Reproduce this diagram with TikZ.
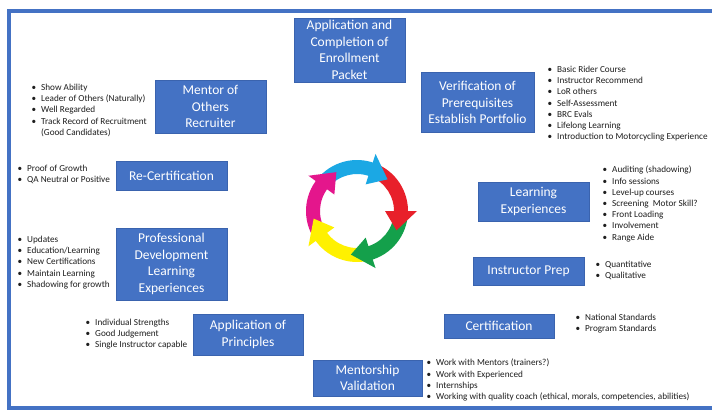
\documentclass[tikz,border=0pt]{standalone}
\usepackage{fontspec}
\setmainfont{Carlito}
\definecolor{boxblue}{HTML}{4472C4}
\definecolor{boxedge}{HTML}{3A63AE}
\definecolor{listtext}{HTML}{1E1E1E}
\definecolor{cmag}{HTML}{E4168C}
\definecolor{cblue}{HTML}{1BA8E4}
\definecolor{cred}{HTML}{E8202A}
\definecolor{cgreen}{HTML}{14A04B}
\definecolor{cyellow}{HTML}{FFF100}
% bullet item and continuation line of a list
\newcommand{\itm}[1]{\makebox[9.5pt][l]{\textbullet}#1}
\newcommand{\cont}[1]{\hspace*{9.5pt}#1}
\begin{document}
\begin{tikzpicture}[x=1pt,y=-1pt,
  box/.style={fill=boxblue, draw=boxedge, line width=0.6pt, text=white,
    align=center, inner sep=0pt, font=\fontsize{13.5}{16.5}\selectfont},
  list/.style={anchor=north west, align=left, inner sep=0pt, text=listtext,
    font=\fontsize{9.2}{11.2}\selectfont,
    execute at begin node={\rule{0pt}{7.5pt}}}]
\useasboundingbox (0,0) rectangle (712,410);
\fill[white] (0,0) rectangle (712,410);
\begin{scope}
\clip (0,0) rectangle (712,410);
\draw[boxblue, line width=3.5pt] (9,11) rectangle (740,408);
\end{scope}

% process steps
\node[box, minimum width=111pt, minimum height=64pt] (app) at (349.5,50) {Application and\\Completion of\\Enrollment\\Packet};
\node[box, minimum width=113pt, minimum height=60pt] (verif) at (477.5,102.5) {Verification of\\Prerequisites\\Establish Portfolio};
\node[box, minimum width=111pt, minimum height=39pt] (learn) at (533.5,201.5) {Learning\\Experiences};
\node[box, minimum width=111pt, minimum height=28pt] (prep) at (528.5,271) {Instructor Prep};
\node[box, minimum width=110pt, minimum height=24pt] (cert) at (499,326) {Certification};
\node[box, minimum width=109pt, minimum height=36pt] (mval) at (367.5,378) {Mentorship\\Validation};
\node[box, minimum width=110pt, minimum height=41pt] (aprin) at (248,334.5) {Application of\\Principles};
\node[box, minimum width=111pt, minimum height=72pt] (pdev) at (171.5,264) {Professional\\Development\\Learning\\Experiences};
\node[box, minimum width=111pt, minimum height=29pt] (recert) at (171.5,175.5) {Re-Certification};
\node[box, minimum width=111pt, minimum height=53pt] (mentor) at (210.5,106.5) {Mentor of\\Others\\Recruiter};

% notes beside each step
\node[list] (mentorlist) at (31.5,84) {\itm{Show Ability}\\\itm{Leader of Others (Naturally)}\\\itm{Well Regarded}\\\itm{Track Record of Recruitment}\\\cont{(Good Candidates)}};
\node[list] (veriflist) at (547.5,66) {\itm{Basic Rider Course}\\\itm{Instructor Recommend}\\\itm{LoR others}\\\itm{Self-Assessment}\\\itm{BRC Evals}\\\itm{Lifelong Learning}\\\itm{Introduction to Motorcycling Experience}};
\node[list] (recertlist) at (17.5,165) {\itm{Proof of Growth}\\\itm{QA Neutral or Positive}};
\node[list] (pdevlist) at (17.5,236) {\itm{Updates}\\\itm{Education/Learning}\\\itm{New Certifications}\\\itm{Maintain Learning}\\\itm{Shadowing for growth}};
\node[list] (aprinlist) at (85.5,319) {\itm{Individual Strengths}\\\itm{Good Judgement}\\\itm{Single Instructor capable}};
\node[list] (learnlist) at (602.5,166) {\itm{Auditing (shadowing)}\\\itm{Info sessions}\\\itm{Level-up courses}\\\itm{Screening\ \ Motor Skill?}\\\itm{Front Loading}\\\itm{Involvement}\\\itm{Range Aide}};
\node[list] (preplist) at (595.5,261) {\itm{Quantitative}\\\itm{Qualitative}};
\node[list] (certlist) at (575.5,314) {\itm{National Standards}\\\itm{Program Standards}};
\node[list] (mvallist) at (426.5,359) {\itm{Work with Mentors (trainers?)}\\\itm{Work with Experienced}\\\itm{Internships}\\\itm{Working with quality coach (ethical, morals, competencies, abilities)}};

% five-colour cycle of curved arrows
\begin{scope}[shift={(357,211)}]
\foreach \a/\c in {118/cmag,46/cblue,-26/cred,-98/cgreen,-170/cyellow}{
  \fill[\c] ({\a+96}:51pt) arc[start angle={\a+96}, end angle={\a+22}, radius=51pt]
    -- ({\a+22}:37pt) arc[start angle={\a+22}, end angle={\a+96}, radius=37pt] -- cycle;
}
\foreach \a/\c in {118/cmag,46/cblue,-26/cred,-98/cgreen,-170/cyellow}{
  \fill[\c] (\a:44pt) -- ({\a+26}:60pt) -- ({\a+26}:28pt) -- cycle;
}
\end{scope}
\end{tikzpicture}
\end{document}
